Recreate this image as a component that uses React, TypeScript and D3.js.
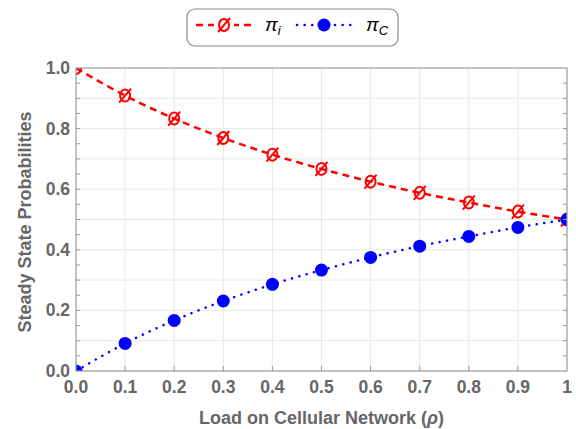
import React from "react";
import * as d3 from "d3";

const loads = [0, 0.1, 0.2, 0.3, 0.4, 0.5, 0.6, 0.7, 0.8, 0.9, 1.0];
const piIdle = [1.0, 0.909, 0.833, 0.769, 0.714, 0.667, 0.625, 0.588, 0.556, 0.526, 0.5];
const piCell = [0.0, 0.091, 0.167, 0.231, 0.286, 0.333, 0.375, 0.412, 0.444, 0.474, 0.5];
const xTickLabels = ["0.0", "0.1", "0.2", "0.3", "0.4", "0.5", "0.6", "0.7", "0.8", "0.9", "1"];
const yTicks = [0, 0.2, 0.4, 0.6, 0.8, 1.0];

const W = 576;
const H = 429;
const left = 76;
const right = 567;
const top = 68;
const bottom = 371;

const RED = "#ff0000";
const BLUE = "#0000ff";
const FRAME = "#9a9a9a";
const GRID = "#e8e8e8";
const TEXT = "#666666";
const FONT = "'Liberation Sans', Arial, sans-serif";

export default function App() {
  const x = d3.scaleLinear().domain([0, 1]).range([left, right]);
  const y = d3.scaleLinear().domain([0, 1]).range([bottom, top]);

  const line = d3
    .line<number>()
    .x((_, i) => x(loads[i]))
    .y((d) => y(d))
    .curve(d3.curveMonotoneX);

  const grid = d3.range(1, 10).map((k) => k / 10);
  const minor = d3.range(1, 20).map((k) => k / 20);

  const slashMarker = (cx: number, cy: number, key: string | number) => (
    <g key={key} stroke={RED} strokeWidth={2} fill="none">
      <ellipse cx={cx} cy={cy} rx={5} ry={6} />
      <line x1={cx - 6} y1={cy + 7} x2={cx + 6} y2={cy - 7} />
    </g>
  );

  return (
    <svg width={W} height={H} style={{ position: "absolute", left: 0, top: 0 }}>
      <defs>
        <clipPath id="plotArea">
          <rect x={left} y={top} width={right - left} height={bottom - top} />
        </clipPath>
      </defs>
      <rect x={0} y={0} width={W} height={H} fill="#ffffff" />

      {/* grid */}
      <g stroke={GRID} strokeWidth={1}>
        {grid.map((g) => (
          <line key={"gx" + g} x1={x(g)} x2={x(g)} y1={top} y2={bottom} />
        ))}
        {grid.map((g) => (
          <line key={"gy" + g} x1={left} x2={right} y1={y(g)} y2={y(g)} />
        ))}
      </g>

      {/* series */}
      <g clipPath="url(#plotArea)">
        <path
          d={line(piIdle) || ""}
          fill="none"
          stroke={RED}
          strokeWidth={2.5}
          strokeDasharray="7,5"
        />
        <path
          d={line(piCell) || ""}
          fill="none"
          stroke={BLUE}
          strokeWidth={2.5}
          strokeDasharray="0.1,7.5"
          strokeLinecap="round"
        />
        {piIdle.map((v, i) => slashMarker(x(loads[i]), y(v), "r" + i))}
        {piCell.map((v, i) => (
          <circle key={"b" + i} cx={x(loads[i])} cy={y(v)} r={6.5} fill={BLUE} />
        ))}
      </g>

      {/* frame */}
      <rect
        x={left}
        y={top}
        width={right - left}
        height={bottom - top}
        fill="none"
        stroke={FRAME}
        strokeWidth={1.2}
      />

      {/* ticks */}
      <g stroke={FRAME} strokeWidth={1}>
        {minor.map((m) => (
          <g key={"t" + m}>
            <line x1={left} x2={left + 4} y1={y(m)} y2={y(m)} />
            <line x1={right} x2={right - 4} y1={y(m)} y2={y(m)} />
          </g>
        ))}
        {grid.map((g) => (
          <line key={"tx" + g} x1={x(g)} x2={x(g)} y1={bottom} y2={bottom - 5} />
        ))}
      </g>

      {/* tick labels */}
      <g fill={TEXT} fontFamily={FONT} fontWeight="bold" fontSize={17.5}>
        {yTicks.map((t) => (
          <text key={"yl" + t} x={left - 6} y={y(t) + 6} textAnchor="end">
            {t.toFixed(1)}
          </text>
        ))}
        {loads.map((t, i) => (
          <text key={"xl" + t} x={x(t)} y={393} textAnchor="middle">
            {xTickLabels[i]}
          </text>
        ))}
      </g>

      {/* axis titles */}
      <text
        x={(left + right) / 2}
        y={424}
        textAnchor="middle"
        fill={TEXT}
        fontFamily={FONT}
        fontWeight="bold"
        fontSize={18}
      >
        Load on Cellular Network (
        <tspan fontStyle="italic">ρ</tspan>)
      </text>
      <text
        transform={`translate(31, 222) rotate(-90)`}
        textAnchor="middle"
        fill={TEXT}
        fontFamily={FONT}
        fontWeight="bold"
        fontSize={18}
      >
        Steady State Probabilities
      </text>

      {/* legend */}
      <g>
        <rect x={187} y={9} width={211} height={37} rx={8} ry={8} fill="#ffffff" stroke="#8a8a8a" strokeWidth={1.2} />
        <line x1={196} x2={252} y1={25} y2={25} stroke={RED} strokeWidth={2.5} strokeDasharray="7,5" />
        <rect x={214} y={16} width={20} height={18} fill="#ffffff" />
        {slashMarker(224, 25, "legend-red")}
        <text x={265} y={31} fontFamily={FONT} fontSize={19} fill="#000000" fontStyle="italic">
          π<tspan fontSize={13} dy={4}>i</tspan>
        </text>
        <line
          x1={297}
          x2={352}
          y1={25}
          y2={25}
          stroke={BLUE}
          strokeWidth={2.5}
          strokeDasharray="0.1,7.5"
          strokeLinecap="round"
        />
        <circle cx={324} cy={25} r={6.5} fill={BLUE} />
        <text x={366} y={31} fontFamily={FONT} fontSize={19} fill="#000000" fontStyle="italic">
          π<tspan fontSize={13} dy={4}>C</tspan>
        </text>
      </g>
    </svg>
  );
}
